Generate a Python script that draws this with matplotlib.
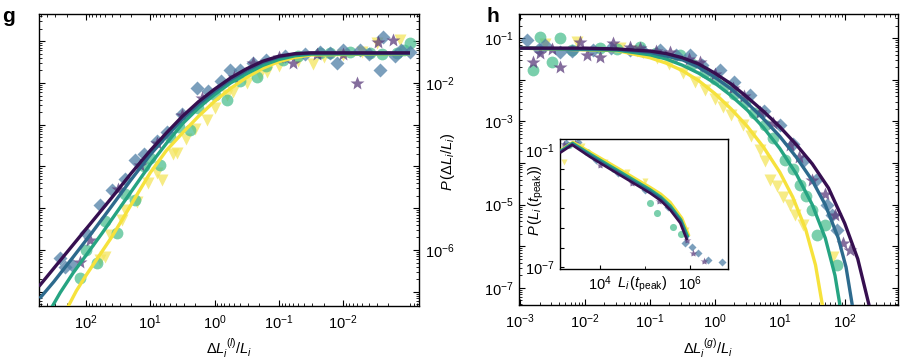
import numpy as np
import matplotlib
matplotlib.use("Agg")
import matplotlib.pyplot as plt
from matplotlib.ticker import LogLocator, NullFormatter, FixedLocator, FixedFormatter

plt.rcParams['font.family'] = ['Liberation Sans', 'DejaVu Sans']
plt.rcParams['mathtext.fontset'] = 'custom'
plt.rcParams['mathtext.rm'] = 'Liberation Sans'
plt.rcParams['mathtext.it'] = 'Liberation Sans:italic'
plt.rcParams['mathtext.bf'] = 'Liberation Sans:bold'

# ---------------- data (log10 values) ----------------
series_names = ["purple", "blue", "green", "yellow"]
line_colors = ["#360f50", "#2d6a8d", "#26a482", "#f6e23c"]
marker_colors = ["#5b3c7c", "#4f7fa6", "#4dbf90", "#f4e55c"]
marker_shapes = ["*", "D", "o", "v"]

# panel g : lines
g_line_purple_x = [2.73, 2.4, 2.0, 1.6, 1.3, 1.0, 0.75, 0.5, 0.25, 0.0, -0.25, -0.5, -0.75, -1.0, -1.25, -1.5, -3.04]
g_line_purple_y = [-6.87, -6.25, -5.5, -4.75, -4.17, -3.62, -3.2, -2.8, -2.45, -2.15, -1.88, -1.66, -1.48, -1.36, -1.30, -1.28, -1.28]
g_line_blue_x = [2.72, 2.5, 2.2, 1.9, 1.6, 1.3, 1.0, 0.75, 0.5, 0.25, 0.0, -0.25, -0.5, -0.75, -1.0, -1.25, -1.5, -3.04]
g_line_blue_y = [-7.16, -6.76, -6.17, -5.57, -4.95, -4.32, -3.72, -3.28, -2.87, -2.51, -2.20, -1.92, -1.70, -1.51, -1.38, -1.31, -1.29, -1.29]
g_line_green_x = [2.55, 2.4, 2.2, 2.0, 1.75, 1.5, 1.25, 1.0, 0.75, 0.5, 0.25, 0.0, -0.25, -0.5, -0.75, -1.0, -1.25, -1.5, -3.04]
g_line_green_y = [-7.42, -7.02, -6.55, -6.13, -5.60, -5.05, -4.50, -3.95, -3.45, -2.98, -2.60, -2.28, -2.00, -1.78, -1.58, -1.44, -1.35, -1.31, -1.30]
g_line_yellow_x = [2.3, 2.15, 2.0, 1.8, 1.6, 1.4, 1.2, 1.0, 0.75, 0.5, 0.25, 0.0, -0.25, -0.5, -0.75, -1.0, -1.25, -1.5, -3.04]
g_line_yellow_y = [-7.42, -6.98, -6.61, -6.15, -5.69, -5.18, -4.66, -4.15, -3.62, -3.20, -2.80, -2.44, -2.13, -1.87, -1.65, -1.49, -1.39, -1.33, -1.30]

# panel g : markers
g_pts_purple_x = [2.09, 1.94, 1.5, 1.16, 0.9, 0.51, 0.2, -0.3, -0.60, -1.0, -1.22, -1.6, -2.0, -2.21, -2.54, -2.77]
g_pts_purple_y = [-6.29, -5.76, -4.55, -3.97, -3.45, -2.77, -2.35, -1.85, -1.52, -1.38, -1.52, -1.30, -1.30, -2.00, -1.02, -0.97]
g_pts_blue_x = [2.4, 2.33, 2.22, 2.0, 1.78, 1.60, 1.4, 1.24, 1.1, 0.9, 0.74, 0.5, 0.27, 0.1, -0.1, -0.24, -0.4, -0.60,
                -0.8, -1.1, -1.4, -1.64, -1.8, -1.90, -2.0, -2.26, -2.4, -2.57, -2.62, -2.8, -2.9, -3.04]
g_pts_blue_y = [-6.2, -6.41, -6.36, -5.6, -4.93, -4.57, -4.3, -3.85, -3.7, -3.4, -3.18, -2.75, -2.12, -2.2, -1.95, -1.69, -1.7, -1.52,
                -1.45, -1.35, -1.3, -1.26, -1.28, -1.52, -1.2, -1.21, -1.3, -1.69, -0.90, -1.35, -1.2, -1.26]
g_pts_green_x = [2.09, 2.0, 1.83, 1.7, 1.52, 1.4, 1.24, 1.1, 1.0, 0.85, 0.7, 0.55, 0.38, 0.25, 0.0, -0.19, -0.4, -0.66,
                 -0.8, -1.06, -1.3, -1.64, -1.8, -2.1, -2.42, -2.6, -2.84, -2.95, -3.04]
g_pts_green_y = [-6.68, -6.0, -6.32, -5.3, -5.60, -4.65, -4.81, -4.0, -3.8, -3.97, -3.3, -3.05, -3.13, -2.6, -2.3, -2.41, -1.95, -1.86,
                 -1.6, -1.45, -1.36, -1.28, -1.28, -1.25, -1.28, -1.3, -1.28, -1.2, -1.04]
g_pts_yellow_x = [1.78, 1.70, 1.63, 1.44, 1.39, 1.2, 1.04, 0.9, 0.82, 0.65, 0.58, 0.45, 0.3, 0.12, 0.0, -0.2, -0.29, -0.5,
                  -0.7, -0.81, -1.0, -1.3, -1.53, -1.7, -2.0, -2.3, -2.53, -2.88]
g_pts_yellow_y = [-6.24, -6.17, -5.64, -5.29, -5.05, -4.85, -4.40, -4.15, -4.33, -3.7, -3.68, -3.35, -3.1, -2.89, -2.6, -2.3, -2.22, -2.0,
                  -1.8, -1.74, -1.6, -1.48, -1.55, -1.38, -1.32, -1.25, -1.04, -0.97]

# panel h : lines
h_line_purple_x = [-3.0, -2.0, -1.5, -1.0, -0.75, -0.5, -0.25, 0.0, 0.25, 0.5, 0.75, 1.0, 1.25, 1.5, 1.75, 2.0, 2.2, 2.38]
h_line_purple_y = [-1.24, -1.24, -1.26, -1.31, -1.37, -1.47, -1.62, -1.84, -2.10, -2.42, -2.76, -3.13, -3.55, -4.02, -4.60, -5.45, -6.30, -7.45]
h_line_blue_x = [-3.0, -1.5, -1.0, -0.5, -0.25, 0.0, 0.25, 0.5, 0.75, 1.0, 1.25, 1.5, 1.7, 1.9, 2.02, 2.12]
h_line_blue_y = [-1.24, -1.27, -1.34, -1.52, -1.70, -1.94, -2.22, -2.56, -2.94, -3.36, -3.85, -4.42, -5.0, -5.8, -6.5, -7.45]
h_line_green_x = [-3.0, -1.5, -1.0, -0.75, -0.5, -0.25, 0.0, 0.25, 0.5, 0.75, 1.0, 1.25, 1.5, 1.7, 1.85, 1.93]
h_line_green_y = [-1.24, -1.29, -1.40, -1.50, -1.65, -1.84, -2.08, -2.38, -2.73, -3.15, -3.65, -4.25, -5.0, -5.8, -6.7, -7.45]
h_line_yellow_x = [-3.0, -1.5, -1.0, -0.75, -0.5, -0.25, 0.0, 0.25, 0.5, 0.75, 1.0, 1.2, 1.4, 1.55, 1.66]
h_line_yellow_y = [-1.24, -1.30, -1.47, -1.60, -1.78, -2.02, -2.33, -2.70, -3.12, -3.62, -4.22, -4.82, -5.60, -6.45, -7.45]

# panel h : markers
h_pts_purple_x = [-2.80, -2.69, -2.5, -2.38, -2.08, -1.97, -1.77, -1.57, -1.3, -1.15, -0.9, -0.69, -0.4, -0.23, 0.0, 0.28, 0.45,
                  0.69, 0.9, 1.15, 1.3, 1.49, 1.7, 1.85, 1.97, 2.08]
h_pts_purple_y = [-1.58, -1.36, -1.25, -1.70, -1.10, -1.41, -1.46, -1.12, -1.22, -1.24, -1.30, -1.34, -1.50, -1.58, -1.85, -2.20, -2.40,
                  -2.78, -3.05, -3.57, -3.85, -4.41, -4.75, -5.25, -5.93, -6.10]
h_pts_blue_x = [-2.89, -2.7, -2.62, -2.38, -2.2, -1.88, -1.6, -1.31, -1.1, -0.85, -0.6, -0.38, -0.2, 0.08, 0.3, 0.54, 0.75,
                1.00, 1.2, 1.38, 1.55, 1.72, 1.8, 1.88]
h_pts_blue_y = [-1.05, -1.25, -1.17, -1.34, -1.30, -1.29, -1.24, -1.29, -1.30, -1.29, -1.40, -1.41, -1.65, -1.77, -2.05, -2.37, -2.75,
                -3.09, -3.55, -3.93, -4.40, -5.01, -5.25, -5.62]
h_pts_green_x = [-2.80, -2.69, -2.51, -2.38, -2.2, -1.77, -1.5, -1.15, -0.9, -0.54, -0.35, -0.15, 0.0, 0.15, 0.3, 0.46, 0.6,
                 0.77, 0.9, 1.08, 1.2, 1.31, 1.4, 1.49, 1.58, 1.7, 1.88]
h_pts_green_y = [-1.77, -0.98, -1.58, -1.00, -1.28, -1.24, -1.26, -1.22, -1.35, -1.41, -1.62, -1.82, -1.98, -2.13, -2.35, -2.54, -2.80,
                 -3.09, -3.40, -3.93, -4.15, -4.53, -4.80, -5.13, -5.74, -5.50, -6.46]
h_pts_yellow_x = [-2.62, -2.12, -1.46, -1.2, -0.89, -0.7, -0.49, -0.3, -0.15, 0.0, 0.12, 0.25, 0.43, 0.55, 0.69, 0.78, 0.85,
                  0.95, 1.05, 1.15, 1.23, 1.35, 1.82]
h_pts_yellow_y = [-1.14, -1.10, -1.24, -1.30, -1.48, -1.62, -1.84, -2.05, -2.25, -2.45, -2.66, -2.85, -3.09, -3.35, -3.69, -3.95, -4.41,
                  -4.55, -4.82, -5.00, -5.25, -5.50, -6.26]

# inset : lines
in_line_purple_x = [3.11, 3.38, 3.78, 4.2, 4.51, 4.8, 5.11, 5.35, 5.56, 5.78, 5.93]
in_line_purple_y = [-1.15, -0.74, -1.36, -1.95, -2.38, -2.78, -3.21, -3.60, -4.08, -4.74, -5.62]
in_line_blue_x = [3.11, 3.38, 3.78, 4.2, 4.51, 4.8, 5.11, 5.35, 5.56, 5.79, 5.94]
in_line_blue_y = [-1.10, -0.70, -1.28, -1.88, -2.30, -2.70, -3.12, -3.50, -3.98, -4.66, -5.55]
in_line_green_x = [3.12, 3.39, 3.78, 4.2, 4.51, 4.8, 5.11, 5.35, 5.56, 5.80, 5.96]
in_line_green_y = [-1.05, -0.64, -1.20, -1.78, -2.20, -2.60, -3.02, -3.40, -3.85, -4.58, -5.48]
in_line_yellow_x = [3.13, 3.40, 3.78, 4.2, 4.51, 4.8, 5.11, 5.35, 5.56, 5.82, 5.98]
in_line_yellow_y = [-1.00, -0.59, -1.10, -1.66, -2.08, -2.48, -2.90, -3.25, -3.67, -4.49, -5.41]

# inset : markers
in_pts_purple_x = [3.20, 3.45, 4.0, 4.7, 5.3, 5.93, 6.07, 6.30]
in_pts_purple_y = [-0.70, -0.65, -1.75, -2.70, -3.60, -5.62, -6.28, -6.70]
in_pts_blue_x = [3.25, 3.50, 3.9, 4.4, 5.0, 5.5, 5.89, 6.04, 6.18, 6.40, 6.71]
in_pts_blue_y = [-0.65, -0.60, -1.50, -2.20, -3.05, -3.90, -5.77, -5.97, -6.28, -6.64, -6.74]
in_pts_green_x = [3.30, 3.7, 4.3, 5.11, 5.27, 5.62, 5.80]
in_pts_green_y = [-0.75, -1.10, -2.00, -3.72, -4.23, -4.95, -5.30]
in_pts_yellow_x = [3.20, 3.60, 4.1, 4.6, 5.00, 5.90]
in_pts_yellow_y = [-1.60, -0.80, -1.60, -2.15, -2.60, -5.10]

# ticks
g_xticks = [2, 1, 0, -1, -2]
g_yticks_labeled = [-2, -6]
h_xticks = [-3, -2, -1, 0, 1, 2]
h_yticks_labeled = [-1, -3, -5, -7]
in_xticks_labeled = [4, 6]
in_yticks_labeled = [-1, -7]

# ---------------- figure ----------------
W, H = 900, 362
fig = plt.figure(figsize=(9.0, 3.62), dpi=100)

def frac(l, t, r, b):
    return [l / W, 1 - b / H, (r - l) / W, (b - t) / H]

axg = fig.add_axes(frac(39, 14, 419, 306))
axh = fig.add_axes(frac(519, 14, 898, 305))
axi = fig.add_axes(frac(560, 139, 728, 269))

def P(a):
    return 10.0 ** np.asarray(a, dtype=float)

g_lines = [(g_line_purple_x, g_line_purple_y), (g_line_blue_x, g_line_blue_y),
           (g_line_green_x, g_line_green_y), (g_line_yellow_x, g_line_yellow_y)]
g_pts = [(g_pts_purple_x, g_pts_purple_y), (g_pts_blue_x, g_pts_blue_y),
         (g_pts_green_x, g_pts_green_y), (g_pts_yellow_x, g_pts_yellow_y)]
h_lines = [(h_line_purple_x, h_line_purple_y), (h_line_blue_x, h_line_blue_y),
           (h_line_green_x, h_line_green_y), (h_line_yellow_x, h_line_yellow_y)]
h_pts = [(h_pts_purple_x, h_pts_purple_y), (h_pts_blue_x, h_pts_blue_y),
         (h_pts_green_x, h_pts_green_y), (h_pts_yellow_x, h_pts_yellow_y)]
in_lines = [(in_line_purple_x, in_line_purple_y), (in_line_blue_x, in_line_blue_y),
            (in_line_green_x, in_line_green_y), (in_line_yellow_x, in_line_yellow_y)]
in_pts = [(in_pts_purple_x, in_pts_purple_y), (in_pts_blue_x, in_pts_blue_y),
          (in_pts_green_x, in_pts_green_y), (in_pts_yellow_x, in_pts_yellow_y)]

msizes = [10, 7.5, 8.5, 8]

def draw(ax, lines, pts, lw, ms_scale):
    for k in [3, 2, 1, 0]:
        x, y = pts[k]
        ax.plot(P(x), P(y), linestyle='none', marker=marker_shapes[k],
                ms=msizes[k] * ms_scale, mfc=marker_colors[k], mec='none', alpha=0.75, zorder=2)
    for k in [3, 2, 1, 0]:
        x, y = lines[k]
        ax.plot(P(x), P(y), color=line_colors[k], lw=lw, solid_capstyle='butt',
                solid_joinstyle='round', zorder=3)

draw(axg, g_lines, g_pts, 2.4, 1.0)
draw(axh, h_lines, h_pts, 2.4, 1.0)
draw(axi, in_lines, in_pts, 1.9, 0.6)

tick_fs = 10.5

def style(ax, fs=tick_fs, pad=5):
    ax.set_xscale('log')
    ax.set_yscale('log')
    ax.tick_params(which='both', direction='in', top=True, right=True, labelsize=fs, pad=pad)
    ax.tick_params(which='major', length=4, width=0.8)
    ax.tick_params(which='minor', length=2, width=0.6)
    for s in ax.spines.values():
        s.set_linewidth(1.0)

def decade_axis(axis, ticks, labeled, minor=True):
    axis.set_major_locator(FixedLocator([10.0 ** v for v in ticks]))
    axis.set_major_formatter(FixedFormatter([r'$10^{%d}$' % v if v in labeled else '' for v in ticks]))
    if minor:
        axis.set_minor_locator(LogLocator(base=10, subs=np.arange(2, 10), numticks=30))
    else:
        axis.set_minor_locator(FixedLocator([]))
    axis.set_minor_formatter(NullFormatter())

# --- panel g ---
style(axg)
axg.set_xlim(10 ** 2.73, 10 ** -3.18)
axg.set_ylim(10 ** -7.34, 10 ** -0.35)
decade_axis(axg.xaxis, g_xticks, g_xticks)
decade_axis(axg.yaxis, list(range(-7, 0)), g_yticks_labeled)
axg.tick_params(axis='y', which='both', labelleft=False, labelright=True, pad=4)
fig.text(229 / W, 1 - 348 / H, r'$\Delta L_i^{\,(l)}/L_i$', fontsize=10.5, ha='center', va='center')
fig.text(448 / W, 1 - 162 / H, r'$P\,(\Delta L_i/L_i)$', fontsize=10.5, ha='center', va='center', rotation=90)
fig.text(2 / W, 1 - 22 / H, 'g', fontsize=15, fontweight='bold', ha='left', va='baseline')

# --- panel h ---
style(axh)
axh.set_xlim(10 ** -3.015, 10 ** 2.82)
axh.set_ylim(10 ** -7.41, 10 ** -0.42)
decade_axis(axh.xaxis, h_xticks, h_xticks)
decade_axis(axh.yaxis, list(range(-7, 0)), h_yticks_labeled)
axh.tick_params(axis='y', pad=4)
fig.text(708 / W, 1 - 348 / H, r'$\Delta L_i^{\,(g)}/L_i$', fontsize=10.5, ha='center', va='center')
fig.text(486 / W, 1 - 22 / H, 'h', fontsize=15, fontweight='bold', ha='left', va='baseline')

# --- inset ---
style(axi, fs=10.5, pad=4)
axi.set_xlim(10 ** 3.11, 10 ** 6.84)
axi.set_ylim(10 ** -7.1, 10 ** -0.44)
decade_axis(axi.xaxis, in_xticks_labeled, in_xticks_labeled, minor=False)
axi.xaxis.set_minor_locator(FixedLocator([10.0 ** v for v in [5]]))
decade_axis(axi.yaxis, list(range(-7, 0)), in_yticks_labeled, minor=False)
axi.tick_params(which='major', length=3)
axi.tick_params(which='both', top=False, right=False)
fig.text(536 / W, 1 - 200 / H, r'$P\,(L_i\,(t_{\rm peak}))$', fontsize=10.5, ha='center', va='center', rotation=90)
fig.text(642 / W, 1 - 284 / H, r'$L_i\,(t_{\rm peak})$', fontsize=10.5, ha='center', va='center')

fig.savefig('out.png', dpi=100)
